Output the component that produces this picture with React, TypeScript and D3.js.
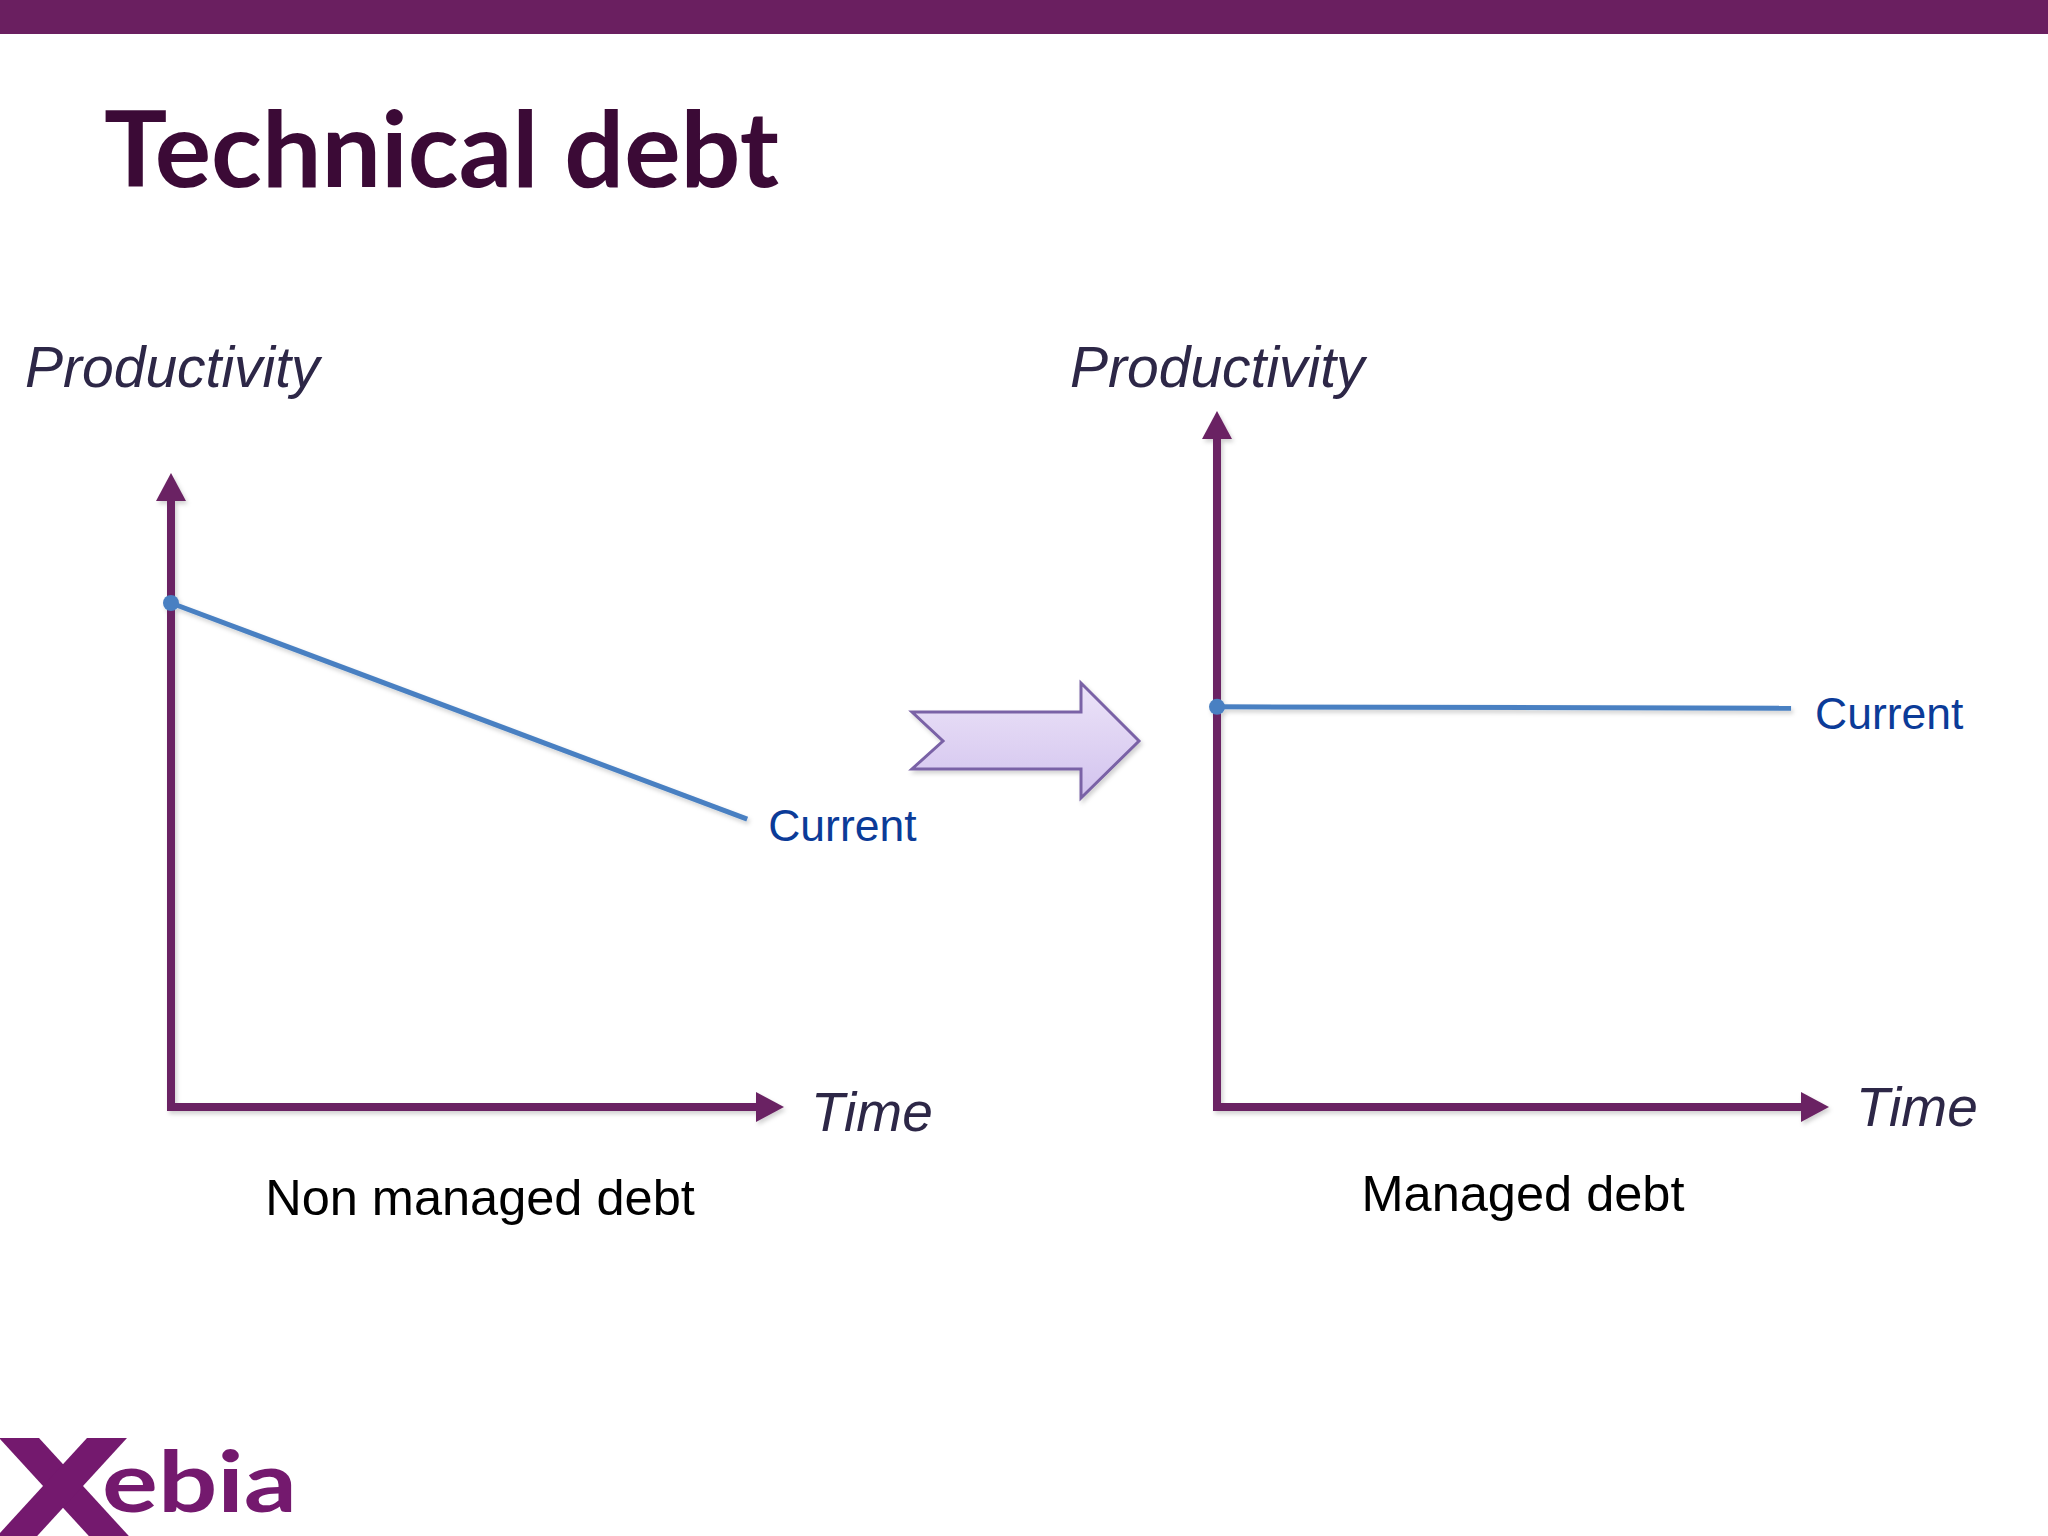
import React from "react";
import * as d3 from "d3";

const W = 2048;
const H = 1536;

// Data: conceptual productivity over time (0..1 units)
const panels = ["Non managed debt", "Managed debt"];
const leftTime = [0, 0.94];
const leftProductivity = [0.795, 0.454];
const rightTime = [0, 0.938];
const rightProductivity = [0.575, 0.573];
const axisYLabel = "Productivity";
const axisXLabel = "Time";
const seriesLabel = "Current";
const title = "Technical debt";

const PURPLE = "#6a2363";
const BLUE = "#4a80c2";

type PanelCfg = {
  x0: number;
  x1: number;
  y0: number;
  y1: number;
  time: number[];
  prod: number[];
  caption: string;
  captionX: number;
  captionY: number;
  prodLabelX: number;
  timeLabelX: number;
  timeLabelY: number;
  currentDx: number;
  currentDy: number;
};

function Panel({ cfg }: { cfg: PanelCfg }) {
  const x = d3.scaleLinear().domain([0, 1]).range([cfg.x0, cfg.x1]);
  const y = d3.scaleLinear().domain([0, 1]).range([cfg.y0, cfg.y1]);
  const pts = cfg.time.map((t, i) => [x(t), y(cfg.prod[i])] as [number, number]);
  const line = d3.line<[number, number]>()(pts) || "";
  const ox = x(0);
  const oy = y(0);
  const ah = 28; // arrow length
  const aw = 15; // half width
  const last = pts[pts.length - 1];
  return (
    <g>
      <g filter="url(#shadow)">
        <line x1={ox} y1={oy + 4} x2={ox} y2={y(1) + ah - 2} stroke={PURPLE} strokeWidth={8} />
        <polygon
          points={`${ox},${y(1)} ${ox - aw},${y(1) + ah} ${ox + aw},${y(1) + ah}`}
          fill={PURPLE}
        />
        <line x1={ox - 4} y1={oy} x2={x(1) - ah + 2} y2={oy} stroke={PURPLE} strokeWidth={8} />
        <polygon
          points={`${x(1)},${oy} ${x(1) - ah},${oy - aw} ${x(1) - ah},${oy + aw}`}
          fill={PURPLE}
        />
        <path d={line} fill="none" stroke={BLUE} strokeWidth={5} />
        <circle cx={pts[0][0]} cy={pts[0][1]} r={8} fill={BLUE} />
      </g>
      <text
        x={cfg.prodLabelX}
        y={387}
        fontFamily="Liberation Sans, Arial, sans-serif"
        fontStyle="italic"
        fontSize={57}
        fill="#2d2747"
      >
        {axisYLabel}
      </text>
      <text
        x={cfg.timeLabelX}
        y={cfg.timeLabelY}
        fontFamily="Liberation Sans, Arial, sans-serif"
        fontStyle="italic"
        fontSize={55}
        fill="#2d2747"
      >
        {axisXLabel}
      </text>
      <text
        x={last[0] + cfg.currentDx}
        y={last[1] + cfg.currentDy}
        fontFamily="Liberation Sans, Arial, sans-serif"
        fontSize={44.5}
        fill="#0b3b98"
      >
        {seriesLabel}
      </text>
      <text
        x={cfg.captionX}
        y={cfg.captionY}
        textAnchor="middle"
        fontFamily="Liberation Sans, Arial, sans-serif"
        fontSize={50.5}
        fill="#000"
      >
        {cfg.caption}
      </text>
    </g>
  );
}

export default function App() {
  const left: PanelCfg = {
    x0: 171,
    x1: 784,
    y0: 1107,
    y1: 473,
    time: leftTime,
    prod: leftProductivity,
    caption: panels[0],
    captionX: 480,
    captionY: 1215,
    prodLabelX: 25,
    timeLabelX: 811,
    timeLabelY: 1131,
    currentDx: 21,
    currentDy: 22,
  };
  const right: PanelCfg = {
    x0: 1217,
    x1: 1829,
    y0: 1107,
    y1: 411,
    time: rightTime,
    prod: rightProductivity,
    caption: panels[1],
    captionX: 1523,
    captionY: 1211,
    prodLabelX: 1070,
    timeLabelX: 1856,
    timeLabelY: 1126,
    currentDx: 24,
    currentDy: 21,
  };

  // big transition arrow
  const arrowPts = [
    [912, 712],
    [1081, 712],
    [1081, 683],
    [1139, 741],
    [1081, 798],
    [1081, 769],
    [912, 769],
    [943, 741],
  ];

  // Xebia X shape
  const xTop = 1438;
  const xBot = 1560;
  const cx = 63;
  const cy = 1486;
  const slope = 44 / 48; // horizontal per vertical
  const half = 20;
  const armA = [
    [cx + (xTop - cy) * slope - half, xTop],
    [cx + (xTop - cy) * slope + half, xTop],
    [cx + (xBot - cy) * slope + half, xBot],
    [cx + (xBot - cy) * slope - half, xBot],
  ];
  const armB = [
    [cx - (xTop - cy) * slope - half, xTop],
    [cx - (xTop - cy) * slope + half, xTop],
    [cx - (xBot - cy) * slope + half, xBot],
    [cx - (xBot - cy) * slope - half, xBot],
  ];
  const pstr = (p: number[][]) => p.map((q) => q.join(",")).join(" ");

  return (
    <svg width={W} height={H} style={{ position: "absolute", left: 0, top: 0, display: "block" }}>
      <defs>
        <filter id="shadow" x="-10%" y="-10%" width="130%" height="130%">
          <feDropShadow dx="2" dy="3" stdDeviation="2" floodColor="#000" floodOpacity="0.18" />
        </filter>
        <linearGradient id="arrowGrad" x1="0" y1="0" x2="0" y2="1">
          <stop offset="0" stopColor="#ece3f8" />
          <stop offset="1" stopColor="#d2c3ee" />
        </linearGradient>
      </defs>
      <rect x={0} y={0} width={W} height={H} fill="#fff" />
      <rect x={0} y={0} width={W} height={34} fill="#6a1f60" />
      <text
        x={104}
        y={187}
        fontFamily="Lato, 'Open Sans', sans-serif"
        fontWeight={700}
        fontSize={106}
        fill="#3b0a36"
        textLength={675}
        lengthAdjust="spacingAndGlyphs"
      >
        {title}
      </text>

      <Panel cfg={left} />
      <Panel cfg={right} />

      <polygon
        points={pstr(arrowPts)}
        fill="url(#arrowGrad)"
        stroke="#7a62a6"
        strokeWidth={3}
        strokeLinejoin="miter"
        filter="url(#shadow)"
      />

      <g fill="#74196e">
        <polygon points={pstr(armA)} />
        <polygon points={pstr(armB)} />
        <text
          x={102}
          y={1512}
          fontFamily="Lato, 'Noto Sans', sans-serif"
          fontWeight={700}
          fontSize={84}
          textLength={195}
          lengthAdjust="spacingAndGlyphs"
        >
          ebia
        </text>
      </g>
    </svg>
  );
}
